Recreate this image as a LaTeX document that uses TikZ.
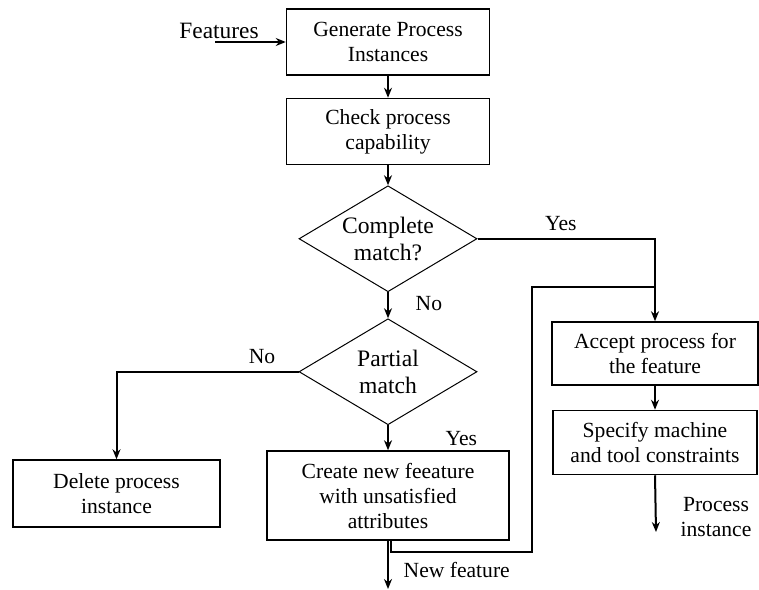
\documentclass[tikz,border=0pt]{standalone}
\usepackage{fontspec}
\setmainfont{Liberation Serif}
\usepackage{tikz}
\usetikzlibrary{shapes.geometric, positioning, arrows.meta}

\begin{document}
\begin{tikzpicture}[x=0.5pt, y=-0.5pt, >={Stealth[length=5pt,width=4pt]},
    every node/.style={font=\fontsize{10.8}{12.5}\selectfont},
    proc/.style={draw, line width=0.75pt, align=center, inner sep=1pt, minimum width=101.5pt, minimum height=33pt},
    decide/.style={draw, diamond, line width=0.5pt, align=center, inner sep=0pt, aspect=1.7, minimum width=89pt, minimum height=53pt,
        font=\fontsize{11.8}{13.5}\selectfont},
    flow/.style={->, line width=1pt}]
    \useasboundingbox (0,0) rectangle (759,589);

    % main column
    \node[proc] (gen) at (388,42) {Generate Process\\Instances};
    \node[proc] (chk) [below=11pt of gen] {Check process\\capability};
    \node[decide] (cmp) [below=10pt of chk] {Complete\\match?};
    \node[decide] (par) [below=13pt of cmp] {Partial\\match};
    \node[proc, minimum width=121pt, minimum height=44.5pt] (crt) [below=12.5pt of par] {Create new feeature\\with unsatisfied\\attributes};

    % side boxes
    \node[proc, minimum width=103.5pt, minimum height=33.5pt] (del) at (116.5,493.5) {Delete process\\instance};
    \node[proc, minimum width=103pt, minimum height=31.5pt] (acc) at (655,353.5) {Accept process for\\the feature};
    \node[proc, minimum width=102pt, minimum height=32pt] (spc) [below=12pt of acc] {Specify machine\\and tool constraints};

    % free ends
    \coordinate (feat) at (215,42);
    \coordinate (newf) at (388,589);
    \coordinate (pout) at (656,532);
    \coordinate (ret) at (532,552);
    \coordinate (mrg) at (acc.north |- 0,287);

    \draw[flow] (feat) -- (gen.west);
    \node[font=\fontsize{11.7}{13}\selectfont] (featl) at (219,31) {Features};

    \draw[flow] (gen) -- (chk);
    \draw[flow] (chk) -- (cmp);
    \draw[flow] (cmp) -- (par) node[pos=0.45, right=10pt] {No};
    \draw[flow] (cmp.east) -| (acc.north) node[pos=0.235, above] {Yes};
    \draw[flow] (par.west) -| (del.north) node[pos=0.1, above] {No};
    \draw[flow] (par) -- (crt) node[pos=0.55, right=25pt] {Yes};
    \draw[flow] (acc) -- (spc);
    \draw[flow] (spc.south) -- (pout);
    \node[align=center] (pinst) at (716,517) {Process\\instance};
    \draw[flow] (crt.south) -- (newf) node[pos=0.6, right=4pt] {New feature};
    \draw[line width=1pt] ([xshift=1.5pt]crt.south) |- (ret) |- (mrg);
\end{tikzpicture}
\end{document}
